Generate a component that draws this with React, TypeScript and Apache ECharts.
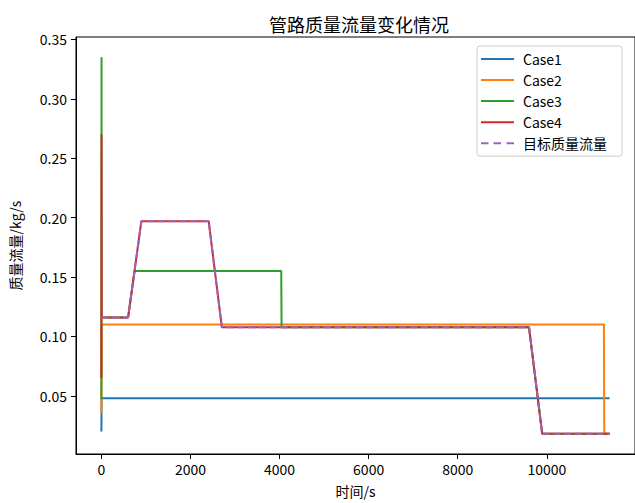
import React, { useEffect, useRef } from "react";
import * as echarts from "echarts";

const TITLE = "管路质量流量变化情况";
const X_NAME = "时间/s";
const Y_NAME = "质量流量/kg/s";
const X_TICKS = [0, 2000, 4000, 6000, 8000, 10000];
const Y_TICKS = [0.05, 0.1, 0.15, 0.2, 0.25, 0.3, 0.35];

const SERIES_NAMES = ["Case1", "Case2", "Case3", "Case4", "目标质量流量"];
const COLORS = ["#1f77b4", "#ff7f0e", "#2ca02c", "#d62728", "#9467bd"];

const case1: [number, number][] = [
  [0, 0.02],
  [5, 0.048],
  [11409, 0.048],
];
const case2: [number, number][] = [
  [0, 0.035],
  [5, 0.11],
  [11282, 0.11],
  [11290, 0.018],
  [11409, 0.018],
];
const case3: [number, number][] = [
  [0, 0.047],
  [3, 0.335],
  [6, 0.116],
  [600, 0.116],
  [745, 0.155],
  [4038, 0.155],
  [4045, 0.1077],
  [9600, 0.1077],
  [9897, 0.018],
  [11409, 0.018],
];
const case4: [number, number][] = [
  [0, 0.065],
  [3, 0.27],
  [6, 0.116],
  [600, 0.116],
  [898, 0.197],
  [2409, 0.197],
  [2704, 0.1077],
  [9600, 0.1077],
  [9897, 0.018],
  [11409, 0.018],
];
const target: [number, number][] = [
  [0, 0.116],
  [600, 0.116],
  [898, 0.197],
  [2409, 0.197],
  [2704, 0.1077],
  [9600, 0.1077],
  [9897, 0.018],
  [11409, 0.018],
];

const FONT = "'Noto Sans CJK SC', sans-serif";
const SOLID_ICON = "path://M0,0h33v2h-33z";
const DASH_ICON = "path://M0,0h7.5v2h-7.5z M12.5,0h7.5v2h-7.5z M25.5,0h7.5v2h-7.5z";

export default function App() {
  const ref = useRef<HTMLDivElement>(null);
  useEffect(() => {
    if (!ref.current) return;
    const chart = echarts.init(ref.current, null, { renderer: "svg" });
    const datas = [case1, case2, case3, case4, target];
    chart.setOption({
      animation: false,
      backgroundColor: "#fff",
      textStyle: { fontFamily: FONT, color: "#000" },
      title: {
        text: TITLE,
        left: 354,
        top: 10,
        textAlign: "center",
        textStyle: { fontFamily: FONT, fontSize: 18, fontWeight: "normal", color: "#000" },
      },
      grid: {
        left: 72,
        top: 37,
        width: 564,
        height: 421,
        show: true,
        borderColor: "#000",
        borderWidth: 1,
        backgroundColor: "transparent",
      },
      legend: {
        orient: "vertical",
        left: 477,
        top: 46,
        itemWidth: 33,
        itemHeight: 2,
        itemGap: 1.3,
        padding: [3, 8, 3, 4],
        borderColor: "#ccc",
        borderWidth: 1,
        borderRadius: 3,
        backgroundColor: "rgba(255,255,255,0.8)",
        textStyle: {
          fontFamily: FONT,
          fontSize: 14,
          color: "#000",
          width: 91,
          lineHeight: 19.8,
          padding: [0, 0, 0, 4],
        },
        data: SERIES_NAMES.map((name, i) => ({
          name,
          icon: i === 4 ? DASH_ICON : SOLID_ICON,
          itemStyle: { color: COLORS[i] },
        })),
      },
      xAxis: {
        type: "value",
        min: -570,
        max: 11980,
        name: X_NAME,
        nameLocation: "middle",
        nameGap: 30,
        nameTextStyle: { fontFamily: FONT, fontSize: 14, color: "#000" },
        splitLine: { show: false },
        axisLine: { show: true, onZero: false, lineStyle: { color: "#000", width: 1 } },
        axisTick: { show: true, length: 5, customValues: X_TICKS, lineStyle: { color: "#000" } },
        axisLabel: {
          customValues: X_TICKS,
          margin: 8,
          fontFamily: FONT,
          fontSize: 14,
          color: "#000",
          formatter: (v: number) => String(v),
        },
      },
      yAxis: {
        type: "value",
        min: 0.001,
        max: 0.352,
        name: Y_NAME,
        nameLocation: "middle",
        nameGap: 54,
        nameTextStyle: { fontFamily: FONT, fontSize: 14, color: "#000" },
        splitLine: { show: false },
        axisLine: { show: true, onZero: false, lineStyle: { color: "#000", width: 1 } },
        axisTick: { show: true, length: 5, customValues: Y_TICKS, lineStyle: { color: "#000" } },
        axisLabel: {
          customValues: Y_TICKS,
          margin: 9,
          fontFamily: FONT,
          fontSize: 14,
          color: "#000",
          formatter: (v: number) => v.toFixed(2),
        },
      },
      series: SERIES_NAMES.map((name, i) => ({
        name,
        type: "line",
        data: datas[i],
        symbol: "none",
        showSymbol: false,
        color: COLORS[i],
        lineStyle: {
          color: COLORS[i],
          width: 2,
          type: i === 4 ? [7.5, 3.3] : "solid",
        },
        z: 2 + i,
      })),
    });
    return () => chart.dispose();
  }, []);
  return (
    <div
      ref={ref}
      style={{ position: "fixed", left: 0, top: 0, width: 635, height: 503 }}
    />
  );
}
